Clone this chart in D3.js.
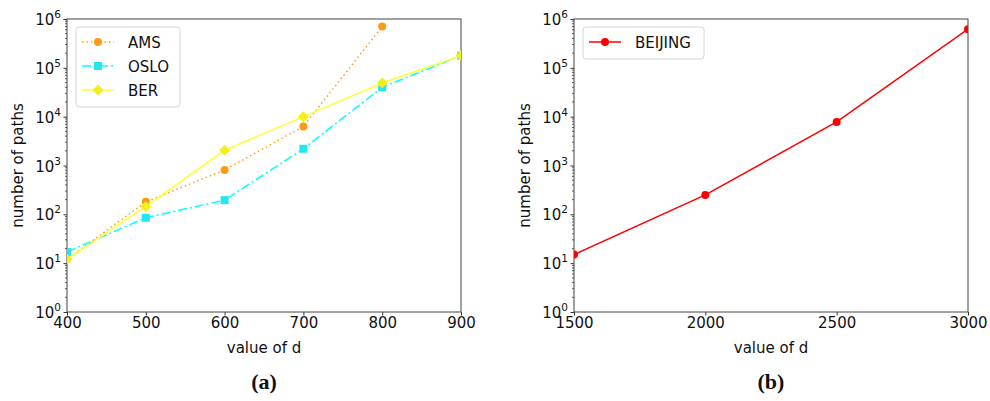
<!DOCTYPE html>
<html>
<head>
<meta charset="utf-8">
<script src="https://cdn.jsdelivr.net/npm/d3@7"></script>
<style>
  body { margin: 0; background: #fff; }
  text { font-family: "DejaVu Sans", sans-serif; }
</style>
</head>
<body>
<div id="chart"></div>
<script>
// Chart size
const w = 990;
const h = 401;

// Data for panel (a)
const dValuesA = [400, 500, 600, 700, 800, 900];
const amsValues = [12, 180, 810, 6300, 700000];
const osloValues = [17, 85, 195, 2200, 40000, 178000];
const berValues = [12, 145, 2050, 10000, 49000, 178000];

// Data for panel (b)
const dValuesB = [1500, 2000, 2500, 3000];
const beijingValues = [15, 250, 7800, 620000];

// Tick labels
const xTicksA = [400, 500, 600, 700, 800, 900];
const xTicksB = [1500, 2000, 2500, 3000];
const yExponents = [0, 1, 2, 3, 4, 5, 6];

const svg = d3.select("#chart")
    .append("svg")
    .attr("width", w)
    .attr("height", h);

const plotTop = 19, plotBottom = 312;

const yScale = d3.scaleLog()
    .domain([1, 1e6])
    .range([plotBottom, plotTop]);

// Draw one panel
function drawPanel(left, right, xDomain, xTicks, series, caption, legendWidth) {
    const xScale = d3.scaleLinear().domain(xDomain).range([left, right]);
    const g = svg.append("g");

    // minor log ticks
    const minor = [];
    for (let e = 0; e < 6; e++) {
        for (let m = 2; m <= 9; m++) minor.push(m * Math.pow(10, e));
    }
    g.selectAll("line.minor")
        .data(minor)
        .enter()
        .append("line")
        .attr("x1", left)
        .attr("x2", left - 2)
        .attr("y1", d => yScale(d))
        .attr("y2", d => yScale(d))
        .attr("stroke", "#333")
        .attr("stroke-width", 0.8);

    // y axis major ticks
    const yAxis = d3.axisLeft(yScale)
        .tickValues(yExponents.map(e => Math.pow(10, e)))
        .tickSize(3.5)
        .tickFormat("");
    g.append("g")
        .attr("transform", `translate(${left},0)`)
        .call(yAxis)
        .call(s => s.select(".domain").remove())
        .call(s => s.selectAll("line").attr("stroke", "#333"));

    // y tick labels with superscripts
    const yl = g.selectAll("text.ylab")
        .data(yExponents)
        .enter()
        .append("text")
        .attr("x", left - 6)
        .attr("y", d => yScale(Math.pow(10, d)) + 6)
        .attr("text-anchor", "end")
        .attr("font-size", "15px")
        .attr("fill", "#111");
    yl.append("tspan").text("10");
    yl.append("tspan")
        .attr("dy", -7)
        .attr("font-size", "10.5px")
        .text(d => d);

    // x axis
    const xAxis = d3.axisBottom(xScale)
        .tickValues(xTicks)
        .tickSize(3.5)
        .tickPadding(2)
        .tickFormat(d3.format("d"));
    g.append("g")
        .attr("transform", `translate(0,${plotBottom})`)
        .call(xAxis)
        .call(s => s.select(".domain").remove())
        .call(s => s.selectAll("line").attr("stroke", "#333"))
        .call(s => s.selectAll("text")
            .attr("font-size", "15px")
            .attr("font-family", "DejaVu Sans, sans-serif")
            .attr("fill", "#111"));

    // frame
    g.append("rect")
        .attr("x", left)
        .attr("y", plotTop)
        .attr("width", right - left)
        .attr("height", plotBottom - plotTop)
        .attr("fill", "none")
        .attr("stroke", "#444")
        .attr("stroke-width", 1);

    // axis labels
    g.append("text")
        .attr("x", (left + right) / 2)
        .attr("y", 353)
        .attr("text-anchor", "middle")
        .attr("font-size", "15px")
        .attr("fill", "#111")
        .text("value of d");

    g.append("text")
        .attr("transform", `translate(${left - 44},${(plotTop + plotBottom) / 2}) rotate(-90)`)
        .attr("text-anchor", "middle")
        .attr("font-size", "15px")
        .attr("fill", "#111")
        .text("number of paths");

    // caption (serif, bold)
    g.append("text")
        .attr("x", (left + right) / 2)
        .attr("y", 389)
        .attr("text-anchor", "middle")
        .style("font-family", "'Liberation Serif', 'DejaVu Serif', serif")
        .style("font-weight", "bold")
        .style("font-size", "22px")
        .attr("fill", "#111")
        .text(caption);

    // clip to plot area
    const clipId = "clip" + left;
    svg.append("clipPath").attr("id", clipId)
        .append("rect")
        .attr("x", left).attr("y", plotTop)
        .attr("width", right - left).attr("height", plotBottom - plotTop);

    const plot = g.append("g").attr("clip-path", `url(#${clipId})`);

    const line = d3.line()
        .x(d => xScale(d[0]))
        .y(d => yScale(d[1]));

    series.forEach(s => {
        const pts = s.values.map((v, i) => [s.xs[i], v]);
        plot.append("path")
            .datum(pts)
            .attr("d", line)
            .attr("fill", "none")
            .attr("stroke", s.color)
            .attr("stroke-width", 1.5)
            .attr("stroke-dasharray", s.dash);
        drawMarkers(plot, pts.map(p => [xScale(p[0]), yScale(p[1])]), s);
    });

    // legend
    const lg = g.append("g");
    const lx = left + 9, ly = 27;
    lg.append("rect")
        .attr("x", lx)
        .attr("y", ly)
        .attr("width", legendWidth)
        .attr("height", 8 + series.length * 24)
        .attr("rx", 3)
        .attr("fill", "white")
        .attr("fill-opacity", 0.8)
        .attr("stroke", "#d6d6d6");
    series.forEach((s, i) => {
        const cy = ly + 15 + i * 24;
        lg.append("line")
            .attr("x1", lx + 6).attr("x2", lx + 38)
            .attr("y1", cy).attr("y2", cy)
            .attr("stroke", s.color)
            .attr("stroke-width", 1.5)
            .attr("stroke-dasharray", s.dash);
        drawMarkers(lg, [[lx + 22, cy]], s);
        lg.append("text")
            .attr("x", lx + 52)
            .attr("y", cy + 6)
            .attr("font-size", "15px")
            .attr("fill", "#111")
            .text(s.name);
    });
}

function drawMarkers(sel, pts, s) {
    if (s.marker === "circle") {
        sel.selectAll(null).data(pts).enter().append("circle")
            .attr("cx", d => d[0]).attr("cy", d => d[1])
            .attr("r", 4)
            .attr("fill", s.markerColor);
    } else if (s.marker === "square") {
        sel.selectAll(null).data(pts).enter().append("rect")
            .attr("x", d => d[0] - 4).attr("y", d => d[1] - 4)
            .attr("width", 8).attr("height", 8)
            .attr("fill", s.markerColor);
    } else {
        sel.selectAll(null).data(pts).enter().append("path")
            .attr("d", d => `M${d[0]},${d[1] - 5.5}L${d[0] + 5.5},${d[1]}L${d[0]},${d[1] + 5.5}L${d[0] - 5.5},${d[1]}Z`)
            .attr("fill", s.markerColor);
    }
}

drawPanel(67, 461, [400, 900], xTicksA, [
    { name: "AMS", xs: dValuesA, values: amsValues, color: "#ff9f1a", markerColor: "#fb9a14", dash: "1.5,3", marker: "circle" },
    { name: "OSLO", xs: dValuesA, values: osloValues, color: "#00ffff", markerColor: "#22e6f0", dash: "9,3,2,3", marker: "square" },
    { name: "BER", xs: dValuesA, values: berValues, color: "#ffff33", markerColor: "#f4ee1a", dash: null, marker: "diamond" }
], "(a)", 104);

drawPanel(574, 968, [1500, 3000], xTicksB, [
    { name: "BEIJING", xs: dValuesB, values: beijingValues, color: "#ff0000", markerColor: "#ff0000", dash: null, marker: "circle" }
], "(b)", 121);
</script>
</body>
</html>
